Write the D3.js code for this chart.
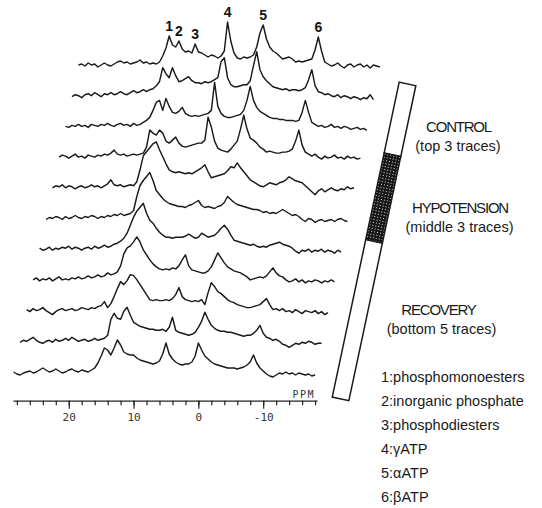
<!DOCTYPE html>
<html>

<head>
    <meta charset="UTF-8" />
    <title>31P spectra: control, hypotension, recovery</title>
    <script src="https://d3js.org/d3.v7.min.js"></script>
    <style>
        body {
            margin: 0;
            background: white;
        }

        /* spectra are plain black pen lines */
        .trace {
            fill: none;
            stroke: #1a1a1a;
            stroke-width: 1.45;
            stroke-linejoin: round;
        }

        .axis path,
        .axis line {
            stroke: #222;
            stroke-width: 1.2;
        }

        .axis text,
        .ppm {
            font-family: "DejaVu Sans Mono", monospace;
            font-size: 11px;
            fill: #333;
        }

        .peak-label {
            font-family: "Liberation Sans", Arial, sans-serif;
            font-weight: bold;
            font-size: 14px;
            text-anchor: middle;
            fill: #111;
        }

        .phase {
            font-family: "Liberation Sans", Arial, sans-serif;
            font-size: 15px;
            letter-spacing: -1.2px;
            text-anchor: middle;
            fill: #1a1a1a;
        }

        .phase-note,
        .legend text {
            font-family: "Liberation Sans", Arial, sans-serif;
            font-size: 14.5px;
            fill: #1a1a1a;
        }

        .phase-note {
            text-anchor: middle;
        }
    </style>
</head>

<body>
    <svg width="542" height="508"></svg>

    <script>
        // chemical shift grid (ppm), every trace is sampled on it
        var ppm = d3.range(28.5, -18.25, -0.5);

        // intensities, top trace first
        var control1 = [0, 1, -1, 2, 0, 1, -2, 0, 2, 0, -1, 1, 3, 4, 2, 3, 1, 2, 3, 5, 2, 3, 1, 2, 1,
            3, 9, 17, 29, 20, 18, 24, 16, 13, 14, 12, 21, 13, 12, 10, 8, 10, 9, 7, 9, 14, 43, 24, 12, 7, 6, 8, 7, 8, 10,
            18, 32, 40, 26, 18, 14, 12, 9, 6, 7, 8, 6, 3, 4, 3, 4, 5, 6, 15, 28, 14, 3, 1,
            -1, 0, 2, -1, -3, 0, 1, -2, 0, 1, -2, 0, -3, 0, -1, -2];
        var control2 = [-1, 1, 0, -2, 1, 2, 0, 3, 1, -1, 2, 1, 3, 1, 2, 4, 2, 1, 3, 5, 3, 4, 6, 4, 6,
            7, 10, 14, 28, 22, 18, 28, 20, 14, 15, 17, 19, 15, 13, 13, 12, 14, 13, 14, 16, 18, 34, 38, 18, 11, 9, 9, 10, 11, 11,
            15, 30, 44, 26, 19, 15, 12, 9, 8, 7, 6, 7, 5, 6, 6, 5, 6, 8, 16, 26, 10, 4, 3,
            1, 2, 0, -1, 1, -2, 0, -1, -3, -1, -2, -4, -2, -3, 1, -4];
        var control3 = [0, -1, 1, 0, 2, 0, 1, -1, 2, 1, 0, 2, 1, 3, 1, 0, 2, 3, 1, 2, 0, 3, 1, 2, 4,
            6, 9, 16, 24, 26, 16, 28, 20, 14, 13, 15, 19, 13, 11, 10, 11, 10, 11, 12, 13, 16, 44, 20, 13, 10, 9, 9, 10, 11, 12,
            16, 26, 40, 26, 19, 15, 13, 11, 9, 8, 8, 7, 7, 6, 6, 6, 5, 6, 14, 26, 14, 4, 2,
            0, 1, -1, 0, 2, -1, 0, -2, 0, -1, -3, -2, -1, -3, -2, -4];
        var hypo1 = [0, 2, 1, -1, 1, 3, 0, 1, -1, 2, 1, 0, 2, 1, 3, 2, 4, 7, 3, 2, 3, 1, 2, 3, 2,
            3, 4, 10, 27, 24, 22, 27, 24, 16, 14, 17, 20, 14, 11, 10, 11, 12, 13, 14, 14, 17, 40, 30, 16, 9, 7, 6, 5, 8, 12,
            16, 28, 42, 28, 19, 17, 14, 10, 8, 5, 6, 5, 4, 4, 5, 5, 6, 8, 16, 27, 12, 5, 3,
            1, 3, 0, -2, 1, -1, 0, 2, -1, 0, -2, 1, -1, 0, -2, -1];
        var hypo2 = [0, 2, 1, 3, 0, 2, 1, -1, 1, 2, 0, 1, 3, 1, 2, 0, 2, 4, 8, 3, 2, 3, 1, 2, 3,
            2, 6, 18, 32, 36, 40, 44, 46, 38, 31, 24, 18, 16, 15, 16, 15, 14, 15, 14, 16, 18, 20, 23, 16, 10, 11, 12, 13, 14, 17,
            21, 20, 25, 20, 16, 12, 8, 6, 4, 2, 1, 3, 5, 4, 3, 5, 6, 8, 11, 9, 7, 6, 5,
            2, -1, -4, -7, -3, -1, -4, -2, 0, -2, -3, -1, -2, 1, -1, 0];
        var hypo3 = [-1, 1, 0, 2, 1, -1, 2, 0, 1, 3, 1, 0, 2, 1, 3, 2, 0, 2, 1, 3, 2, 4, 3, 5, 3,
            4, 5, 8, 22, 33, 38, 42, 46, 38, 28, 24, 20, 17, 15, 14, 13, 12, 12, 11, 13, 14, 16, 18, 13, 11, 12, 11, 10, 12, 13,
            16, 22, 19, 16, 14, 13, 12, 11, 10, 9, 9, 8, 6, 7, 5, 6, 5, 7, 9, 7, 5, 3, 4,
            2, -1, -3, 0, -1, -4, -2, -1, -3, -2, -1, -3, -1, 0, -2, -3];
        var recovery1 = [1, -1, 0, 2, -1, 1, 0, 2, 1, 3, 0, 2, 1, -1, 1, 2, 0, 3, 1, 2, 4, 2, 3, 5, 6,
            8, 11, 16, 24, 32, 38, 42, 46, 36, 29, 26, 21, 17, 14, 12, 12, 11, 12, 12, 12, 13, 15, 13, 11, 12, 16, 14, 12, 13, 14,
            17, 21, 24, 20, 14, 9, 8, 7, 6, 5, 4, 5, 3, 2, 3, 2, 4, 5, 6, 7, 5, 4, 3,
            1, -2, -4, -1, -2, 0, -3, -1, -2, 0, -3, -1, -2, -4, -1, -3];
        var recovery2 = [0, 2, -1, 1, 0, 2, -1, 1, 3, 0, 1, 0, 2, 1, 3, 1, 2, 4, 2, 3, 5, 3, 4, 7, 5,
            6, 8, 14, 26, 32, 34, 38, 43, 38, 30, 25, 20, 16, 13, 11, 10, 11, 10, 12, 11, 14, 20, 25, 14, 10, 9, 8, 7, 7, 9,
            13, 20, 27, 22, 17, 13, 11, 9, 8, 7, 5, 3, 0, 1, 2, 3, 2, 4, 8, 12, 7, 4, 3,
            0, -2, -1, 1, -2, 0, -3, -1, -2, 0, -1, -3, -1, -2, 0, -2];
        var recovery3 = [1, -1, 2, 0, 1, 3, 0, -2, -4, -1, 1, 2, 0, 1, 2, 0, 1, 3, 2, 1, 3, 2, 4, 5, 9,
            3, 7, 14, 22, 29, 26, 30, 36, 35, 31, 26, 21, 16, 11, 10, 11, 10, 10, 11, 10, 12, 16, 23, 14, 11, 10, 9, 10, 9, 11,
            6, 18, 28, 24, 19, 17, 14, 11, 9, 8, 6, 5, 4, 3, 3, 4, 5, 6, 9, 12, 6, 1, 2,
            0, 2, -1, 0, -2, 1, -1, -3, 0, -1, -2, 0, -3, -1, -4, -2];
        var recovery4 = [-1, 1, 0, 2, 4, 1, -1, -2, 0, 1, -1, 2, 0, 1, 3, 1, 4, 2, 0, 1, 2, 0, 1, 3, 1,
            2, 3, 6, 22, 28, 23, 22, 30, 34, 26, 19, 17, 15, 14, 13, 12, 12, 11, 11, 12, 10, 14, 24, 11, 9, 8, 7, 6, 7, 9,
            14, 20, 29, 22, 16, 13, 11, 10, 10, 9, 9, 8, 7, 6, 5, 6, 6, 8, 11, 16, 8, 4, 3,
            1, 2, 0, -3, -4, -6, -4, -2, -3, -1, -2, 0, -1, -3, -2, -2];
        var recovery5 = [0, -2, -3, -1, 0, 1, -1, 0, 2, 4, 2, 0, 1, 3, 1, -1, 0, 2, 3, 1, 0, 2, 1, 0, 2,
            4, 9, 16, 24, 22, 17, 24, 32, 27, 20, 18, 17, 17, 14, 12, 11, 10, 9, 8, 9, 11, 18, 29, 18, 13, 10, 8, 7, 8, 8,
            10, 16, 29, 22, 16, 13, 10, 8, 7, 6, 5, 4, 4, 4, 3, 4, 5, 7, 10, 17, 9, 4, 1,
            -2, -4, -5, -3, -1, -2, 0, -2, -1, -3, -1, -2, -3, -2, -4, -3];

        // peaks marked on the top trace
        var peakNumbers = ["1", "2", "3", "4", "5", "6"];
        var peakPpm = [14.5, 13, 10.5, 5.5, 0, -8.5];
        var peakNames = ["phosphomonoesters", "inorganic phosphate", "phosphodiesters", "\u03b3ATP", "\u03b1ATP", "\u03b2ATP"];

        // axis ticks
        var majorTicks = [20, 10, 0, -10];
        var minorTicks = d3.range(28, -19, -2);

        // experiment phases, top to bottom, and their share of the time bar
        var phaseNames = ["CONTROL", "HYPOTENSION", "RECOVERY"];
        var phaseNotes = ["(top 3 traces)", "(middle 3 traces)", "(bottom 5 traces)"];
        var phaseShare = [0.225, 0.275, 0.5];

        var traces = [control1, control2, control3, hypo1, hypo2, hypo3,
            recovery1, recovery2, recovery3, recovery4, recovery5];

        var svg = d3.select("svg");
        var n = traces.length;
        var shiftPpm = 1;      // each earlier trace slides 1 ppm to the right
        var stepUp = 30.7;     // and this many intensity units up

        var x = d3.scaleLinear().domain([28.6, -18.3]).range([13, 317]);
        var y = d3.scaleLinear().domain([0, 100]).range([372, 272]);

        traces.forEach(function (vals, i) {
            var k = n - 1 - i;
            var line = d3.line()
                .x(function (d, j) { return x(ppm[j] - k * shiftPpm); })
                .y(function (d) { return y(d + k * stepUp); });
            svg.append("path").attr("class", "trace").attr("d", line(vals));
        });

        // peak numbers above the top trace
        var topK = n - 1;
        svg.selectAll(".peak-label")
            .data(peakNumbers)
            .enter().append("text")
            .attr("class", "peak-label")
            .attr("x", function (d, i) { return x(peakPpm[i] - topK * shiftPpm); })
            .attr("y", function (d, i) {
                var j = Math.round((28.5 - peakPpm[i]) / 0.5);
                return y(traces[0][j] + topK * stepUp) - 5;
            })
            .text(function (d) { return d; });

        // ppm axis
        var axisY = 400.7;
        svg.append("g").attr("class", "axis")
            .attr("transform", "translate(0," + axisY + ")")
            .call(d3.axisBottom(x).tickValues(minorTicks).tickSize(4.5).tickSizeOuter(0).tickFormat(""));

        var major = svg.append("g").attr("class", "axis")
            .attr("transform", "translate(0," + axisY + ")")
            .call(d3.axisBottom(x).tickValues(majorTicks).tickSize(8).tickSizeOuter(0).tickPadding(5)
                .tickFormat(function (d) { return String(d); }));
        major.select(".domain").remove();

        svg.append("text").attr("class", "ppm")
            .attr("x", 315).attr("y", 397.5)
            .attr("text-anchor", "end")
            .style("font-size", "10px")
            .style("letter-spacing", "1.5px")
            .text("PPM");

        // slanted time bar
        var barLen = 322, barW = 17;
        var along = d3.scaleLinear().domain([0, 1]).range([0, barLen]);
        var starts = [0];
        phaseShare.forEach(function (s, i) { starts.push(starts[i] + s); });

        var defs = svg.append("defs");
        var pat = defs.append("pattern").attr("id", "dots")
            .attr("width", 3).attr("height", 3).attr("patternUnits", "userSpaceOnUse");
        pat.append("rect").attr("width", 3).attr("height", 3).attr("fill", "#161616");
        pat.append("rect").attr("x", 1).attr("y", 1).attr("width", 1).attr("height", 1).attr("fill", "#ddd");

        var bar = svg.append("g").attr("transform", "translate(407.5,84) rotate(12)");
        bar.selectAll("rect.seg")
            .data(phaseShare)
            .enter().append("rect")
            .attr("class", "seg")
            .attr("x", -barW / 2)
            .attr("y", function (d, i) { return along(starts[i]); })
            .attr("width", barW)
            .attr("height", function (d) { return along(d); })
            .attr("fill", function (d, i) { return i === 1 ? "url(#dots)" : "white"; })
            .attr("stroke", "#1a1a1a")
            .attr("stroke-width", 1.5);

        // phase captions
        var capX = [458.5, 460, 438.5], capY = [132, 213, 315];
        var noteX = [458, 459.5, 441.5], noteY = [151, 232, 334];
        svg.selectAll(".phase")
            .data(phaseNames)
            .enter().append("text")
            .attr("class", "phase")
            .attr("x", function (d, i) { return capX[i]; })
            .attr("y", function (d, i) { return capY[i]; })
            .text(function (d) { return d; });
        svg.selectAll(".phase-note")
            .data(phaseNotes)
            .enter().append("text")
            .attr("class", "phase-note")
            .attr("x", function (d, i) { return noteX[i]; })
            .attr("y", function (d, i) { return noteY[i]; })
            .text(function (d) { return d; });

        // peak legend
        var legend = svg.append("g").attr("class", "legend");
        legend.selectAll("text")
            .data(peakNames)
            .enter().append("text")
            .attr("x", 381)
            .attr("y", function (d, i) { return 381.5 + i * 24.1; })
            .text(function (d, i) { return peakNumbers[i] + ":" + d; });
    </script>
</body>

</html>
